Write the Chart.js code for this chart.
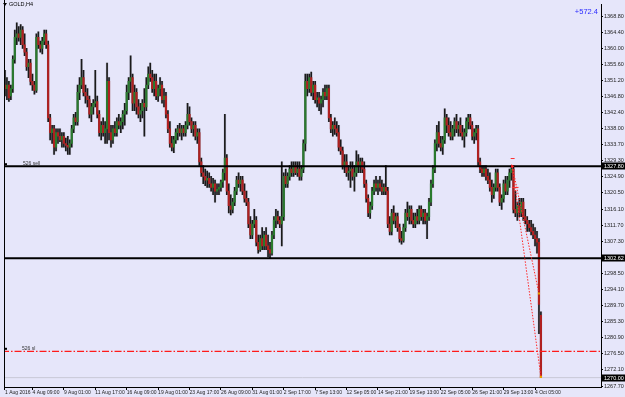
<!DOCTYPE html>
<html>
<head>
<meta charset="utf-8">
<script src="https://cdn.jsdelivr.net/npm/chart.js@4.4.1/dist/chart.umd.min.js"></script>
<style>
  html, body { margin: 0; padding: 0; background: #E6E6FA; }
  #wrap { width: 625px; height: 397px; }
</style>
</head>
<body>
<div id="wrap"><canvas id="goldChart" width="625" height="397"></canvas></div>
<script>
// GOLD H4 - candles (bar index = H4 bar from 1 Aug 2016)
const opens = [
  1350,1349,1350,1347,1349,1357,1363,1364,1363,1365, 1361,1359,1355,1356,1351,1350,1348.5,1363,1361,1360,
  1362,1364,1361,1341,1337,1338,1333,1337,1336,1335, 1336,1334,1333.5,1333,1334,1338,1341,1340,1348,1350,
  1352,1348,1347,1346,1342,1344,1345,1345.5,1342,1337, 1339,1337,1338,1351,1337,1335,1338,1337,1340,1339,
  1340,1342,1343,1348,1351,1352,1345,1348,1344,1342, 1343,1345,1344,1350,1353,1352,1349,1351,1347,1349,
  1350,1346,1347,1342,1338,1334,1333,1335,1337,1338, 1337,1338,1337,1339,1342,1340,1338,1339,1336,1337,
  1329,1326,1325,1324,1324.5,1323,1322,1323,1321,1321.5, 1322,1323.5,1326,1330,1321,1317,1316,1318,1321,1324,
  1323,1324,1321,1319,1318,1312,1309,1312,1313,1307, 1305,1308,1306,1309,1306,1305,1304,1309,1313,1314,
  1313,1312,1314,1325,1323,1325,1327,1326,1328,1326, 1327,1325,1327,1334,1351,1349,1352,1348,1350,1346,
  1346.5,1345,1346,1348,1347,1349,1341,1338,1339,1338, 1337,1333,1332,1328,1329,1326,1326.5,1327,1325,1326,
  1329,1328,1329,1327,1323,1319,1315,1317,1321,1323, 1322,1323,1322,1321,1322,1321,1312,1310,1315,1313,
  1314,1311,1308,1307.5,1311,1315,1314,1316,1313,1312, 1314,1313,1316,1314,1315,1313,1314,1318,1323,1327,
  1334,1337,1334,1333,1335,1341,1339,1337,1336,1338, 1340,1338,1339,1337,1336,1337,1340,1341,1339,1336,
  1337,1338,1329,1327,1326,1327,1325,1324,1322,1320, 1322,1326,1322,1318,1319,1323,1321,1324,1326,1327,
  1316,1315,1317,1315,1318,1314,1313,1312,1311,1310, 1309,1308,1307,1287
]
const highs = [
  1354,1352,1351,1350,1358,1365,1367,1366,1366.5,1366, 1364,1360,1357,1357,1353,1351,1364,1364.5,1362,1363,
  1365,1365,1362,1342,1339,1339,1338,1338,1338,1337, 1337,1335.5,1336,1335,1339,1342,1342.5,1350,1352,1357,
  1354,1350,1349,1347,1345,1346,1354,1347,1343,1340, 1341,1340,1356,1352,1339,1339,1340,1341,1342,1341,
  1343,1345,1350,1352,1358,1353,1350,1349,1346,1345, 1346,1349,1352,1355,1356,1354,1353,1353,1350,1352,
  1351,1349,1348,1343,1340,1336,1336,1338,1339,1339.5, 1339,1339,1340,1345,1344,1341,1340,1340,1338,1338,
  1330,1328,1327,1326.5,1326,1325,1324.5,1324,1323,1323, 1324,1327,1342,1331,1323,1320,1319,1322,1325,1326,
  1325,1325,1323,1321,1319,1314,1313,1316,1314,1309, 1309,1311,1310,1311,1309,1307,1310,1314,1316,1315.5,
  1314,1329,1326,1327,1326,1328,1329,1329,1329,1329, 1329,1328,1335,1353,1353,1353,1353.5,1351,1351,1348,
  1348,1347,1349,1350,1350,1350,1342,1340,1341,1340, 1339,1335,1333,1331,1331,1328,1329,1329,1328,1332,
  1331,1330,1330,1329,1324,1320,1318,1322,1324,1325, 1324,1325,1324,1323,1328,1322,1314,1316,1317,1315,
  1315,1312,1310,1312,1316,1318,1317,1317,1315,1315, 1316,1317,1317,1316,1316,1315,1319,1324,1328,1335,
  1339,1340,1336,1336,1343.5,1342,1341,1340,1339,1341, 1342,1340,1341,1339,1338,1341,1342,1342,1340,1338,
  1339,1339,1330,1328,1328,1328,1327,1326,1324,1323, 1327,1327,1323,1320,1324,1325,1325,1327,1328,1328,
  1321,1318,1319,1319,1319,1316,1314,1313,1313,1312, 1311,1310,1308,1288
]
const lows = [
  1347,1346,1345.5,1346,1348,1356,1361,1362,1361,1360, 1358,1354,1352,1350,1348.5,1347.5,1348,1360,1359,1358.5,
  1361,1360,1340,1335,1334,1331,1332,1334,1334.5,1333, 1333,1332,1331,1331,1333,1337,1339,1339,1346,1349,
  1347,1345,1344,1341,1340,1342,1344,1341,1336,1335, 1336,1334,1334,1335,1333,1334,1336,1336,1338,1337,
  1338,1339,1342,1346,1348,1343,1343,1342,1341,1340, 1341,1336,1343,1349,1351,1348,1347,1346,1345.5,1347,
  1345,1344,1341,1337,1333,1332,1331.5,1334,1335,1336, 1335,1336,1336,1338,1339,1337,1336,1335,1334,1328,
  1325,1323,1322.5,1322,1322,1321,1320,1318,1320,1320, 1321,1322,1324,1320,1315,1314.5,1315,1317,1320,1322,
  1321,1320,1318,1317,1311,1308,1308,1311,1306,1304, 1304.5,1305,1305,1305,1303,1302.5,1303.5,1308,1311,1312,
  1311,1306,1313,1322,1322,1324,1325,1325,1325.5,1325, 1324,1324,1326,1332,1347,1348,1347,1346,1345,1344,
  1343,1342,1344,1346,1346,1340,1337,1336,1336.5,1336, 1332,1331,1327,1326,1325,1324,1322,1324,1321,1325,
  1326,1326,1326,1322,1318,1314,1313.5,1316,1320,1321, 1320,1321,1320,1320,1320,1311,1309,1309,1312,1311,
  1310,1307,1306.5,1307,1310,1313,1312,1312,1311,1311, 1312,1312,1313,1312,1312,1308,1313,1317,1322,1326,
  1332,1333,1332,1331,1334,1337,1336,1335,1335,1336, 1337,1336,1336,1335,1333,1336,1338,1338,1335,1334,
  1335,1328,1326,1325,1325,1324,1323,1321,1318,1319, 1321,1321,1317,1316,1318,1320,1320,1322,1324,1315,
  1314,1313,1314,1314,1313,1312,1310,1310,1309,1308, 1306,1304,1282,1270
]
const closes = [
  1349,1350,1346.5,1349,1357,1363,1364,1363,1365,1361, 1359,1355,1356,1351,1350,1348.5,1363,1361,1360,1362,
  1364,1361,1341,1337,1338,1333,1337,1336,1335,1336, 1334,1333.5,1333,1334,1338,1341,1340,1348,1350,1352,
  1348,1347,1346,1342,1344,1345,1345.5,1342,1337,1339, 1337,1338,1351,1337,1335,1338,1337,1340,1339,1340,
  1342,1343,1348,1351,1352,1345,1348,1344,1342,1343, 1345,1344,1350,1353,1352,1349,1351,1347,1349,1350,
  1346,1347,1342,1338,1334,1333,1335,1337,1338,1337, 1338,1337,1339,1342,1340,1338,1339,1336,1337,1329,
  1326,1325,1324,1324.5,1323,1322,1323,1321,1321.5,1322, 1323.5,1326,1330,1321,1317,1316,1318,1321,1324,1323,
  1324,1321,1319,1318,1312,1309,1312,1313,1307,1305, 1308,1306,1309,1306,1305,1304,1309,1313,1314,1313,
  1312,1314,1325,1323,1325,1327,1326,1328,1326,1327, 1325,1327,1334,1351,1349,1352,1348,1350,1346,1346.5,
  1345,1346,1348,1347,1349,1341,1338,1339,1338,1337, 1333,1332,1328,1329,1326,1326.5,1327,1325,1326,1329,
  1328,1329,1327,1323,1319,1315,1317,1321,1323,1322, 1323,1322,1321,1322,1321,1312,1310,1315,1313,1314,
  1311,1308,1307.5,1311,1315,1314,1316,1313,1312,1314, 1313,1316,1314,1315,1313,1314,1318,1323,1327,1334,
  1337,1334,1333,1335,1341,1339,1337,1336,1338,1340, 1338,1339,1337,1336,1337,1340,1341,1339,1336,1337,
  1338,1329,1327,1326,1327,1325,1324,1322,1320,1322, 1326,1322,1318,1319,1323,1321,1324,1326,1327,1316,
  1315,1317,1315,1318,1314,1313,1312,1311,1310,1309, 1308,1307,1290,1270
]

// time axis labels (every 16 H4 bars) and price scale labels
const dateTickIndex = [0,14,30,46,62,78,94,110,126,142,158,174,190,206,222,238,254,270]
const dateTickLabels = ["1 Aug 2016","4 Aug 09:00","9 Aug 01:00","11 Aug 17:00","16 Aug 09:00","19 Aug 01:00",
  "23 Aug 17:00","26 Aug 09:00","31 Aug 01:00","2 Sep 17:00","7 Sep 13:00","12 Sep 05:00","14 Sep 21:00",
  "19 Sep 13:00","22 Sep 05:00","26 Sep 21:00","29 Sep 13:00","4 Oct 05:00"]
const priceTicks = [1368.80,1364.40,1360.00,1355.60,1351.20,1346.80,1342.40,1338.00,1333.70,1329.30,1324.90,
  1320.50,1316.10,1311.70,1307.30,1302.90,1298.50,1294.10,1289.70,1285.30,1280.90,1276.50,1272.10,1267.70]

// levels on the chart
const sellLevel = 1327.80
const supportLevel = 1302.62
const slLevel = 1277.2
const bidPrice = 1270.00
const entryPoint = { x: 258.4, y: 1327.8 }
const exitPoints = [{ x: 272, y: 1293.0 }, { x: 273, y: 1270.2 }]
const profitText = "+572.4"

const X_MIN = -0.5, X_MAX = 303.6
const FONT = "'Liberation Sans', Arial, sans-serif"

const wickData = lows.map((l, i) => ({ x: i, y: [l, highs[i]] }))
const bodyData = opens.map((o, i) => ({ x: i, y: [o, closes[i]] }))
const bodyColors = opens.map((o, i) => closes[i] >= o ? "#2a7a2e" : "#b02020")

function hLine(v) {
  return [{ x: X_MIN - 1, y: v }, { x: X_MAX + 1, y: v }]
}

// overlay texts and the highlighted price boxes
const overlay = {
  id: "overlay",
  afterDraw(chart) {
    const c = chart.ctx
    const ya = chart.scales.y
    const area = chart.chartArea
    c.save()
    // left frame line
    c.strokeStyle = "#000"
    c.lineWidth = 1
    c.beginPath()
    c.moveTo(area.left + 0.5, 0)
    c.lineTo(area.left + 0.5, area.bottom)
    c.stroke()

    // symbol caption
    c.fillStyle = "#000"
    c.beginPath()
    c.moveTo(3, 3); c.lineTo(7, 3); c.lineTo(5, 6); c.closePath()
    c.fill()
    c.font = "5.5px " + FONT
    c.textBaseline = "middle"
    c.textAlign = "left"
    c.fillText("GOLD,H4", 9, 4.5)

    // profit
    c.fillStyle = "#2a2aff"
    c.font = "7.5px " + FONT
    c.textAlign = "right"
    c.fillText(profitText, 598, 12)

    // order labels
    c.textAlign = "left"
    c.font = "5px " + FONT
    c.fillStyle = "#333"
    const ySell = ya.getPixelForValue(sellLevel)
    const ySl = ya.getPixelForValue(slLevel)
    c.fillText("526 sell", 23, ySell - 2.5)
    c.fillText("526 sl", 22, ySl - 3)
    c.fillStyle = "#000"
    c.fillRect(5, ySell - 3, 2, 2)
    c.fillRect(5, ySl - 3.5, 2, 2)

    // highlighted price labels on the axis
    c.font = "5.5px " + FONT
    ;[sellLevel, supportLevel, bidPrice].forEach(v => {
      const y = ya.getPixelForValue(v)
      c.fillStyle = "#000"
      c.fillRect(area.right + 1, Math.round(y) - 3.5, 23, 7)
      c.fillStyle = "#fff"
      c.fillText(v.toFixed(2), area.right + 3, Math.round(y))
    })
    c.restore()
  }
}

const bgPlugin = {
  id: "bg",
  beforeDraw(chart) {
    const c = chart.ctx
    c.save()
    c.fillStyle = "#E6E6FA"
    c.fillRect(0, 0, chart.width, chart.height)
    c.restore()
  }
}

new Chart(document.getElementById("goldChart"), {
  data: {
    datasets: [
      {
        type: "line", data: [entryPoint, exitPoints[0]], borderColor: "#ff2a2a", borderWidth: 1,
        borderDash: [1.5, 1.5], pointRadius: 0, order: 1
      },
      {
        type: "line", data: [entryPoint, exitPoints[1]], borderColor: "#ff2a2a", borderWidth: 1,
        borderDash: [1.5, 1.5], pointRadius: 0, order: 1
      },
      {
        type: "scatter", data: exitPoints, pointStyle: "rect", pointRadius: 1.5,
        backgroundColor: "#e8a000", borderWidth: 0, order: 0
      },
      {
        type: "scatter", data: [entryPoint], pointStyle: "triangle", rotation: 90, pointRadius: 2.2,
        backgroundColor: "#ff2020", borderWidth: 0, order: 0
      },
      {
        type: "line", data: [{ x: 257.6, y: 1329.9 }, { x: 259.6, y: 1329.9 }], borderColor: "#ff3030",
        borderWidth: 1, pointRadius: 0, order: 1
      },
      {
        type: "line", data: [{ x: 258.2, y: 1322.0 }, { x: 261.6, y: 1322.0 }], borderColor: "#ff3030",
        borderWidth: 1, pointRadius: 0, order: 1
      },
      {
        type: "line", data: hLine(sellLevel), borderColor: "#000", borderWidth: 2, pointRadius: 0, order: 2
      },
      {
        type: "line", data: hLine(supportLevel), borderColor: "#000", borderWidth: 2, pointRadius: 0, order: 2
      },
      {
        type: "line", data: hLine(slLevel), borderColor: "#ff1a1a", borderWidth: 1.2,
        borderDash: [7, 2, 1.5, 2], pointRadius: 0, order: 2
      },
      {
        type: "line", data: hLine(bidPrice), borderColor: "#c9c9d6", borderWidth: 1, pointRadius: 0, order: 12
      },
      {
        type: "bar", label: "body", data: bodyData, backgroundColor: bodyColors, barThickness: 1.5,
        minBarLength: 1, grouped: false, order: 10
      },
      {
        type: "bar", label: "wick", data: wickData, backgroundColor: "#1a1a1a", barThickness: 1,
        grouped: false, order: 11
      },
      {
        type: "bar", label: "shade", data: wickData, backgroundColor: "rgba(150,150,170,0.35)", barThickness: 2,
        grouped: false, order: 13
      }
    ]
  },
  options: {
    responsive: false,
    animation: false,
    events: [],
    layout: { padding: { left: 2, top: 2, right: 0, bottom: 0 } },
    plugins: {
      legend: { display: false },
      tooltip: { enabled: false }
    },
    scales: {
      x: {
        type: "linear",
        min: X_MIN,
        max: X_MAX,
        offset: false,
        afterBuildTicks: (s) => { s.ticks = dateTickIndex.map(v => ({ value: v })) },
        afterFit: (s) => { s.height = 10 },
        grid: { drawOnChartArea: false, tickLength: 3, color: "#000", offset: false },
        border: { color: "#000", width: 1 },
        ticks: {
          autoSkip: false, maxRotation: 0, minRotation: 0, align: "start", padding: 0,
          color: "#222", font: { size: 5, family: FONT },
          callback: (v, i) => dateTickLabels[i]
        }
      },
      y: {
        type: "linear",
        position: "right",
        min: 1267.44,
        max: 1372.06,
        afterBuildTicks: (s) => { s.ticks = priceTicks.map(v => ({ value: v })) },
        afterFit: (s) => { s.width = 24 },
        grid: { drawOnChartArea: false, tickLength: 2, color: "#000" },
        border: { color: "#000", width: 1 },
        ticks: {
          autoSkip: false, padding: 1, color: "#222", font: { size: 5.5, family: FONT },
          callback: (v) => v.toFixed(2)
        }
      }
    }
  },
  plugins: [bgPlugin, overlay]
})
</script>
</body>
</html>
